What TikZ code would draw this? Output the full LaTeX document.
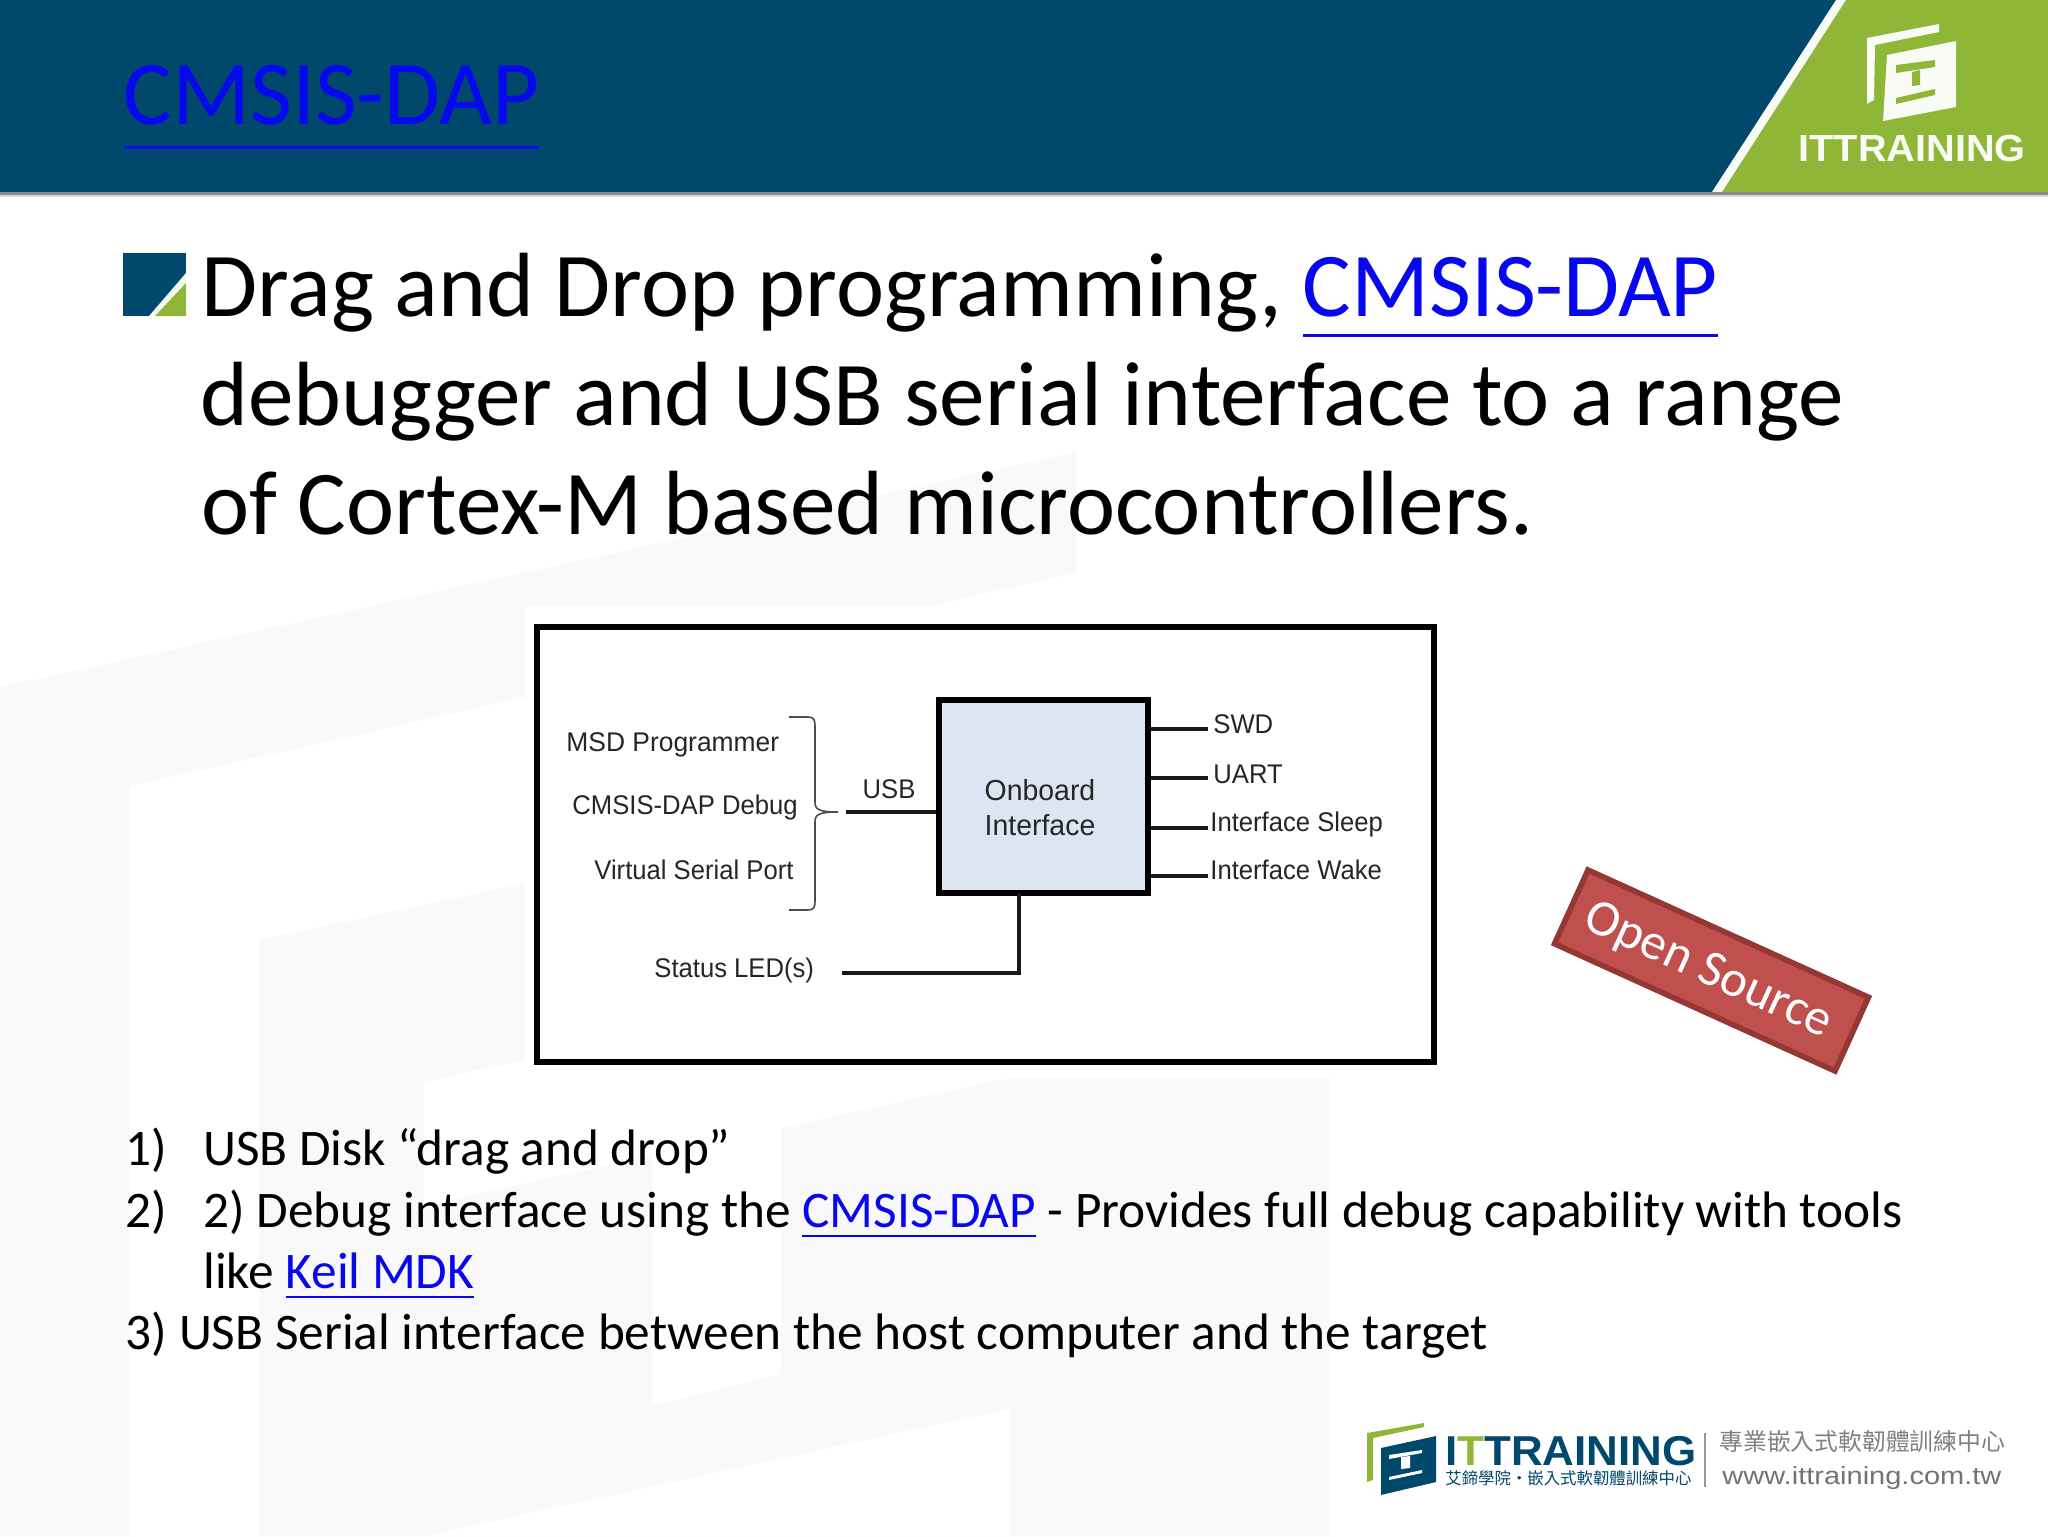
\documentclass[tikz,border=0pt]{standalone}
\usepackage{fontspec}
\setmainfont{Carlito}
\newfontfamily\arialfont{Liberation Sans}
\newfontfamily\cjkfont{Noto Sans CJK TC}
\usetikzlibrary{positioning}
\definecolor{headblue}{HTML}{00486C}
\definecolor{headgreen}{HTML}{8FB637}
\definecolor{linkblue}{HTML}{0808EE}
\definecolor{marklight}{HTML}{F9F9FB}
\definecolor{boxfill}{HTML}{DCE6F2}
\definecolor{badgefill}{HTML}{C0504D}
\definecolor{badgeline}{HTML}{953735}
\newcommand{\linkword}[2][.2]{\setbox0=\hbox{#2}\rlap{\color{linkblue}\rule[-#1em]{\wd0}{.035em}}{\color{linkblue}\box0}}
\begin{document}
\begin{tikzpicture}[x=0.5pt, y=-0.5pt,
  heading/.style = {anchor=base west, inner sep=0pt, font=\fontsize{45.6}{54}\selectfont},
  listline/.style = {anchor=base west, inner sep=0pt, font=\fontsize{25.65}{30}\selectfont},
  label/.style = {inner sep=0pt, xscale=0.95, text=black!85, font=\arialfont\fontsize{13.5}{16}\selectfont},
  wire/.style = {draw=black!90, line width=1.6pt},
  frame/.style = {draw=black, line width=2.6pt},
  logotext/.style = {inner sep=0pt, font=\arialfont\bfseries\fontsize{18.9}{20}\selectfont}]
\useasboundingbox (0,0) rectangle (2048,1536);
% faint watermark
\fill[marklight] (0,687) -- (1076,452) -- (1076,573) -- (130,786) -- (130,1536) -- (0,1536) -- cycle;
\fill[marklight] (259,940) -- (1330,711) -- (1330,1536) -- (259,1536) -- cycle;
\fill[white] (424,1082) -- (1009,954) -- (1009,1078) -- (781,1128) -- (781,1374) -- (652,1406) -- (652,1155) -- (424,1206) -- cycle;
\fill[white] (424,1536) -- (1009,1409) -- (1009,1536) -- cycle;
% header
\fill[headblue] (0,0) rectangle (2048,192);
\fill[headgreen] (1846,0) -- (2048,0) -- (2048,192) -- (1722,192) -- cycle;
\fill[white!95!headgreen] (1836,0) -- (1846,0) -- (1722,192) -- (1712,192) -- cycle;
\fill[black!45] (0,192) rectangle (2048,195);
\fill[black!15] (0,195) rectangle (2048,197);
\fill[white!95!headgreen] (1867,38) -- (1939,24) -- (1939,32) -- (1875,45) -- (1874,100) -- (1867,104) -- cycle;
\fill[white!95!headgreen] (1887,55) -- (1956,41) -- (1956,107) -- (1883,121) -- cycle;
\fill[headgreen] (1896,65) -- (1935,60) -- (1935,67) -- (1896,73) -- cycle;
\fill[headgreen] (1912,72) -- (1920,70) -- (1920,85) -- (1912,86) -- cycle;
\fill[headgreen] (1896,98) -- (1935,89) -- (1935,95) -- (1896,104) -- cycle;
\node[logotext, text=white!95!headgreen, xscale=1.05] (toplogo) at (1912,148) {ITTRAINING};
\node[heading, text=linkblue] (title) at (123.5,125) {\linkword[.26]{CMSIS-DAP}};
% bullet
\fill[headblue] (123,253) rectangle (186,316);
\fill[headgreen] (186,283) -- (186,316) -- (155,316) -- cycle;
\fill[white!90!headgreen] (186,273) -- (186,283) -- (155,316) -- (149,316) -- cycle;
\node[heading] (line1) at (201,316) {Drag and Drop programming, \linkword[.235]{CMSIS-DAP}};
\node[heading] (line2) at (200,425) {debugger and USB serial interface to a range};
\node[heading] (line3) at (201,534) {of Cortex-M based microcontrollers.};
% block diagram
\fill[white] (525,606) rectangle (1445,1078);
\draw[frame] (537,627) rectangle (1434,1062);
\node[frame, fill=boxfill, minimum width=104.5pt, minimum height=96.5pt, inner sep=0pt] (onboard) at (1043.5,796.5) {};
\node[inner sep=0pt, align=center, xscale=0.98, text=black!85, font=\arialfont\fontsize{14.5}{17.5}\selectfont] (onboardlabel) at (1040,808) {Onboard\\Interface};
\node[label, anchor=west, xscale=1.03] (msd) at (566,745) {MSD Programmer};
\node[label, anchor=west] (debug) at (572,808) {CMSIS-DAP Debug};
\node[label, anchor=west] (serial) at (594,870) {Virtual Serial Port};
\node[label, anchor=west] (status) at (654,970) {Status LED(s)};
\node[label] (usb) at (889,789) {USB};
\node[label, anchor=west] (swd) at (1213,724) {SWD};
\node[label, anchor=west] (uart) at (1213,774) {UART};
\node[label, anchor=west] (sleep) at (1210,825) {Interface Sleep};
\node[label, anchor=west] (wake) at (1210,870) {Interface Wake};
\coordinate (usbend) at (846,812);
\coordinate (ledend) at (842,973);
\draw[wire] (usbend) -- (onboard.west |- usbend);
\draw[wire] (swd.west |- 0,729) ++(-5,0) -- (onboard.east |- 0,729);
\draw[wire] (uart.west |- 0,778) ++(-5,0) -- (onboard.east |- 0,778);
\draw[wire] (sleep.west |- 0,828) ++(-2,0) -- (onboard.east |- 0,828);
\draw[wire] (wake.west |- 0,876) ++(-2,0) -- (onboard.east |- 0,876);
\draw[wire] (ledend) -- (1019,973) -- (1019,893);
% brace
\draw[black!70, line width=0.8pt] (789,717) -- (808,717) .. controls (814,717) and (815,720) .. (815,726) -- (815,802) .. controls (815,809) and (818,812) .. (838,812) .. controls (818,812) and (815,815) .. (815,822) -- (815,901) .. controls (815,907) and (814,910) .. (808,910) -- (789,910);
% badge
\node[draw=badgeline, line width=2.8pt, fill=badgefill, rotate=-24.4, minimum width=154pt, minimum height=40.5pt, inner sep=0pt] (badge) at (1711.5,970.5) {};
\node[text=white, rotate=-24.4, inner sep=0pt, font=\fontsize{25.6}{30}\selectfont] (badgelabel) at (1708,971.5) {Open Source};
% list
\node[listline] (num1) at (125.5,1165) {1)};
\node[listline] (item1) at (203,1165) {USB Disk “drag and drop”};
\node[listline] (num2) at (125.5,1227) {2)};
\node[listline] (item2) at (203,1227) {2) Debug interface using the \linkword{CMSIS-DAP} - Provides full debug capability with tools};
\node[listline] (item2b) at (203,1288) {like \linkword{Keil MDK}};
\node[listline] (item3) at (125.5,1349) {3) USB Serial interface between the host computer and the target};
% footer logo
\fill[headgreen] (1367,1433) -- (1424,1423) -- (1424,1427) -- (1373,1438) -- (1373,1480) -- (1367,1482) -- cycle;
\fill[headblue] (1381,1448) -- (1436,1436) -- (1436,1482) -- (1381,1495) -- cycle;
\fill[white] (1389,1455) -- (1422,1450) -- (1422,1453) -- (1389,1459) -- cycle;
\fill[white] (1401,1457) -- (1410,1456) -- (1410,1468) -- (1401,1469) -- cycle;
\fill[white] (1389,1477) -- (1422,1470) -- (1422,1473) -- (1389,1480) -- cycle;
\node[logotext, text=headblue, anchor=base west, xscale=1.05, font=\arialfont\bfseries\fontsize{20.9}{22}\selectfont] (footlogo) at (1445,1465) {I\textcolor{headgreen}{T}TRAINING};
\node[inner sep=0pt, anchor=base west, text=headblue, font=\cjkfont\fontsize{8.2}{9}\selectfont] (footcn) at (1445,1484) {艾鍗學院‧嵌入式軟韌體訓練中心};
\draw[black!40, line width=0.6pt] (1705,1433) -- (1705,1487);
\node[inner sep=0pt, anchor=base west, text=black!50, font=\cjkfont\fontsize{11.9}{13}\selectfont] (footcn2) at (1719,1450) {專業嵌入式軟韌體訓練中心};
\node[inner sep=0pt, anchor=base west, text=black!55, xscale=1.17, font=\arialfont\fontsize{12.4}{14}\selectfont] (footweb) at (1722,1484) {www.ittraining.com.tw};
\end{tikzpicture}
\end{document}
